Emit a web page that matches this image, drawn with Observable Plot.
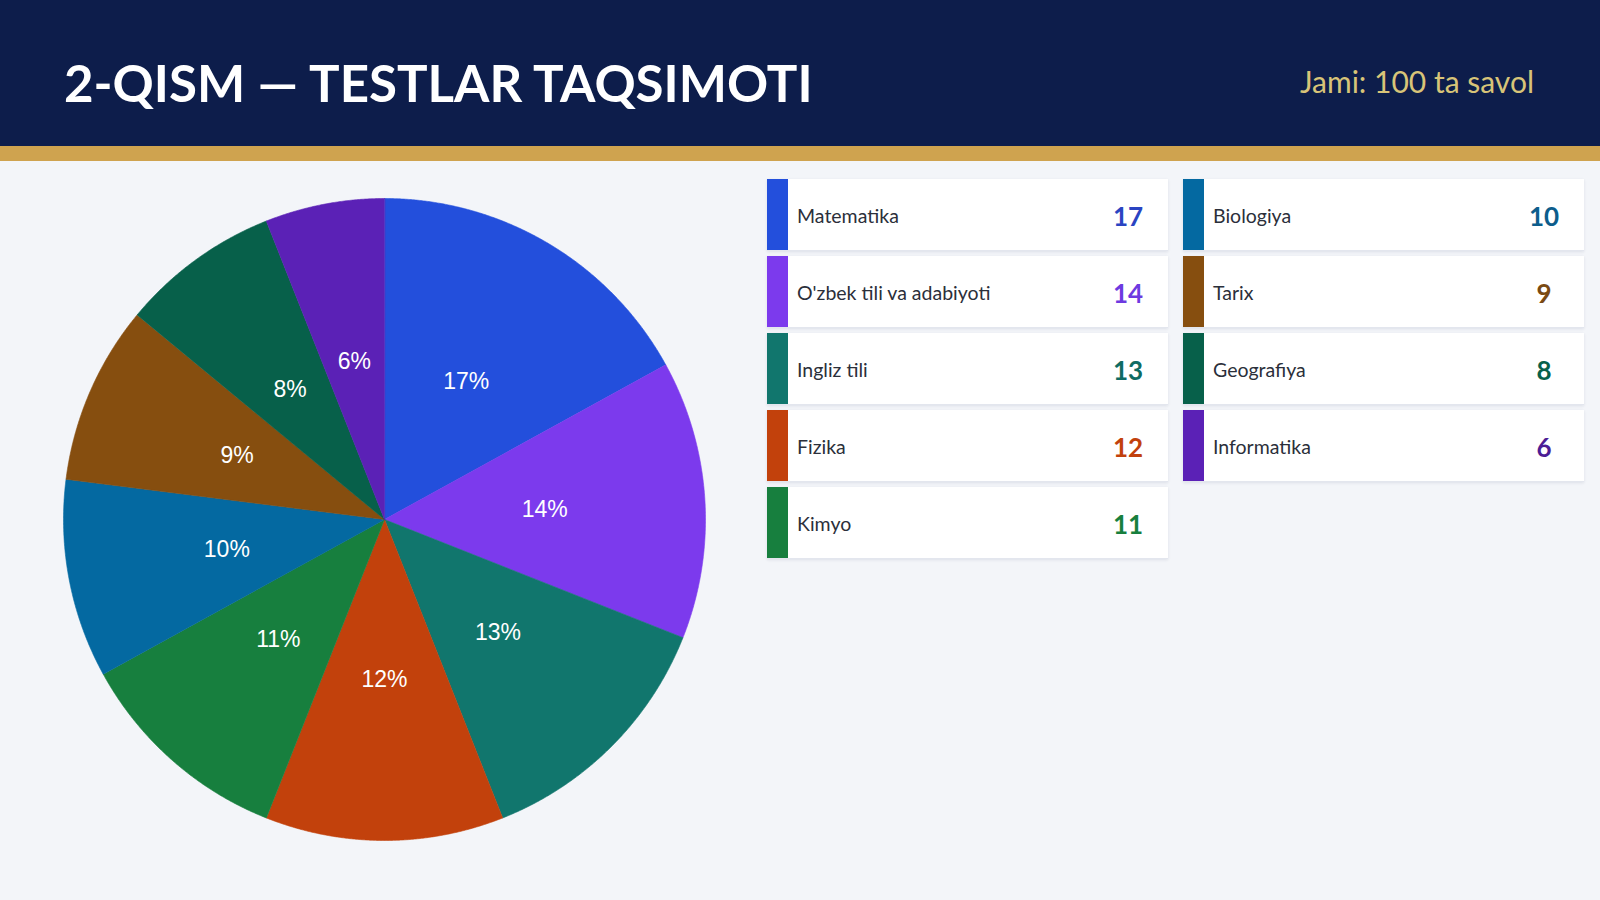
<!DOCTYPE html>
<html>
<head>
<meta charset="utf-8">
<script src="https://cdn.jsdelivr.net/npm/d3@7"></script>
<script src="https://cdn.jsdelivr.net/npm/@observablehq/plot@0.6"></script>
<style>
  html, body { margin: 0; padding: 0; }
  body { width: 1600px; height: 900px; background: #f3f5f9; position: relative; overflow: hidden; font-family: Lato, "Open Sans", sans-serif; }
  #header { position: absolute; left: 0; top: 0; width: 1600px; height: 146px; background: #0d1d4b; }
  #band { position: absolute; left: 0; top: 146px; width: 1600px; height: 15px; background: #cfa34f; }
  #title { position: absolute; left: 64px; top: 57px; font-size: 51px; font-weight: 700; color: #ffffff; line-height: 1; }
  #total { position: absolute; right: 66px; top: 66px; font-size: 30px; color: #d8c478; line-height: 1; }
  #chart { position: absolute; left: 34px; top: 169px; }
  .card { position: absolute; height: 71px; background: #ffffff; box-shadow: 0 1px 3px rgba(30,40,80,0.10); border-bottom: 1px solid #e3e6ee; }
  .card .bar { position: absolute; left: 0; top: 0; width: 21px; height: 71px; }
  .card .name { position: absolute; left: 30px; top: 1px; line-height: 71px; font-size: 19.5px; color: #2b2f3a; }
  .card .val { position: absolute; right: 10px; width: 60px; text-align: center; top: 2px; line-height: 71px; font-size: 26px; font-weight: 700; }
</style>
</head>
<body>
<div id="header"></div>
<div id="band"></div>
<div id="title">2-QISM — TESTLAR TAQSIMOTI</div>
<div id="total">Jami: 100 ta savol</div>
<div id="chart"></div>
<div id="legend"></div>
<script>
const subjects = ["Matematika", "O'zbek tili va adabiyoti", "Ingliz tili", "Fizika", "Kimyo", "Biologiya", "Tarix", "Geografiya", "Informatika"];
const counts = [17, 14, 13, 12, 11, 10, 9, 8, 6];
const colors = ["#234fdc", "#7c3aed", "#11766d", "#c2410c", "#177f3e", "#0469a1", "#864e0f", "#07604a", "#5b21b6"];
const valueColors = ["#2a44c2", "#6d3ae0", "#0f6b63", "#c2410c", "#177f3e", "#0d5d8c", "#7a4a12", "#07604a", "#4c1d95"];

const total = d3.sum(counts);
const slices = [];
let cum = 0;
subjects.forEach((s, i) => {
  const a0 = cum / total * 2 * Math.PI;
  cum += counts[i];
  const a1 = cum / total * 2 * Math.PI;
  slices.push({subject: s, value: counts[i], a0, a1, pct: Math.round(counts[i] / total * 100)});
});

// polygon points of each slice (center + arc samples)
const polyPoints = [];
slices.forEach(d => {
  polyPoints.push({subject: d.subject, x: 0, y: 0});
  const n = Math.max(2, Math.ceil((d.a1 - d.a0) / (Math.PI / 720)));
  for (let k = 0; k <= n; k++) {
    const a = d.a0 + (d.a1 - d.a0) * k / n;
    polyPoints.push({subject: d.subject, x: Math.sin(a), y: Math.cos(a)});
  }
});
const labelPts = slices.map(d => {
  const a = (d.a0 + d.a1) / 2;
  return {subject: d.subject, x: 0.5 * Math.sin(a), y: 0.5 * Math.cos(a), label: d.pct + "%"};
});

const plot = Plot.plot({
  width: 700,
  height: 700,
  margin: 29,
  style: {background: "transparent", overflow: "visible"},
  x: {domain: [-1, 1], axis: null},
  y: {domain: [-1, 1], axis: null},
  color: {domain: subjects, range: colors},
  marks: [
    Plot.line(polyPoints, {x: "x", y: "y", z: "subject", fill: "subject", stroke: "subject", strokeWidth: 0.6, curve: "linear-closed"}),
    Plot.text(labelPts, {x: "x", y: "y", text: "label", fill: "white", fontSize: 23, fontFamily: "'Liberation Sans', Arial, sans-serif"})
  ]
});
document.getElementById("chart").appendChild(plot);

// legend cards
const legend = document.getElementById("legend");
subjects.forEach((s, i) => {
  const col = i < 5 ? 0 : 1;
  const row = i < 5 ? i : i - 5;
  const card = document.createElement("div");
  card.className = "card";
  const left = col === 0 ? 767 : 1183;
  card.style.left = left + "px";
  card.style.top = (179 + row * 77) + "px";
  card.style.width = "401px";
  card.innerHTML = `<div class="bar" style="background:${colors[i]}"></div>` +
    `<div class="name">${s}</div>` +
    `<div class="val" style="color:${valueColors[i]}">${counts[i]}</div>`;
  legend.appendChild(card);
});
</script>
</body>
</html>
